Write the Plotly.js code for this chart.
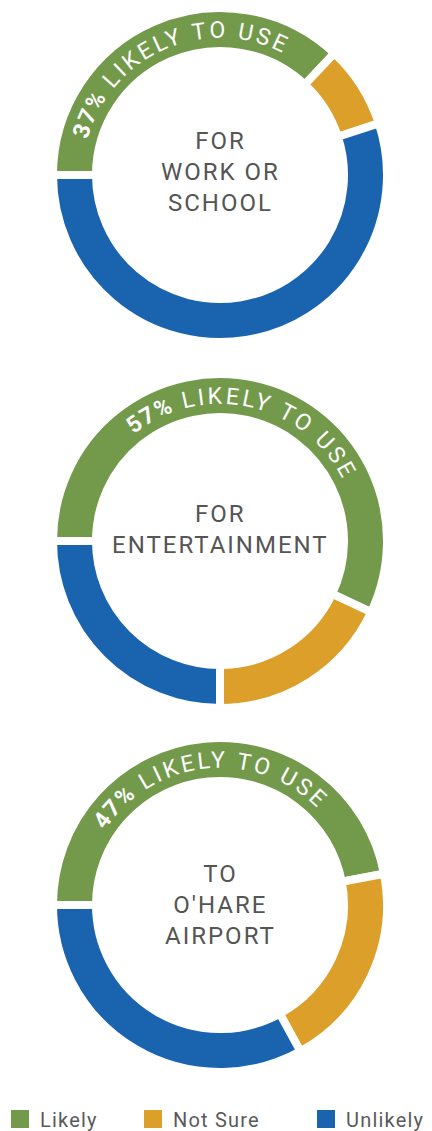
<!DOCTYPE html>
<html>
<head>
<meta charset="utf-8">
<script src="https://cdn.plot.ly/plotly-3.0.1.min.js"></script>
<style>
html,body{margin:0;padding:0;background:#fff;}
#chart{width:432px;height:1131px;}
#chart .annotation-text{letter-spacing:2px;}
#chart .legendtext{letter-spacing:1.2px;}
</style>
</head>
<body>
<div id="chart"></div>
<script>
// ---- data ----
const categories = ['Likely', 'Not Sure', 'Unlikely'];
const workOrSchool = [37, 8, 55];
const entertainment = [57, 18, 25];
const toOhare = [47, 20, 33];
const centerLabels = ['FOR<br>WORK OR<br>SCHOOL', 'FOR<br>ENTERTAINMENT', 'TO<br>O\'HARE<br>AIRPORT'];
const arcPercents = ['37%', '57%', '47%'];
const arcSuffix = ' LIKELY TO USE';
const colors = ['#739a4b', '#dc9f29', '#1a63ae'];

// ---- layout constants ----
const W = 432, H = 1131;
const centerXpx = 220;
const centersYpx = [175, 541, 905];
const pieRpx = 167;
const holeFrac = 0.7425;
const labelShift = [3, 12, 0];
const FONT = 'Roboto, "Open Sans", sans-serif';

const seriesList = [workOrSchool, entertainment, toOhare];

const traces = seriesList.map((vals, i) => ({
  type: 'pie',
  labels: categories,
  values: vals,
  sort: false,
  direction: 'clockwise',
  rotation: 270,
  hole: holeFrac,
  textinfo: 'none',
  hoverinfo: 'label+percent',
  showlegend: i === 0,
  marker: {colors: colors, line: {color: '#ffffff', width: 8}},
  domain: {
    x: [(centerXpx - pieRpx) / W, (centerXpx + pieRpx) / W],
    y: [(H - centersYpx[i] - pieRpx) / H, (H - centersYpx[i] + pieRpx) / H]
  }
}));

const annotations = centerLabels.map((t, i) => ({
  text: t,
  x: centerXpx / W,
  y: (H - centersYpx[i]) / H,
  xref: 'paper', yref: 'paper',
  xanchor: 'center', yanchor: 'middle',
  yshift: labelShift[i],
  showarrow: false,
  align: 'center',
  font: {family: FONT, size: 24, color: '#555555'}
}));

const layout = {
  width: W, height: H,
  margin: {l: 0, r: 0, t: 0, b: 0},
  paper_bgcolor: '#ffffff',
  showlegend: true,
  legend: {
    orientation: 'h',
    x: 0, xanchor: 'left',
    y: 0, yanchor: 'bottom',
    font: {family: FONT, size: 20, color: '#5a5a5a'},
    traceorder: 'normal'
  },
  annotations: annotations
};

const gd = document.getElementById('chart');
Plotly.newPlot(gd, traces, layout, {displayModeBar: false, staticPlot: true}).then(() => {
  const NS = 'http://www.w3.org/2000/svg';
  const svg = gd.querySelector('svg.main-svg');
  const g = document.createElementNS(NS, 'g');
  g.setAttribute('class', 'arc-labels');
  svg.appendChild(g);

  const fs = 23;
  gd.calcdata.forEach((cd, i) => {
    const cd0 = cd[0];
    const cx = cd0.cx, cy = cd0.cy, r = cd0.r;
    const likely = cd[0];
    const mid = (likely.startangle + likely.stopangle) / 2;
    const ringMid = r * (1 + holeFrac) / 2;
    const rb = ringMid - fs * 0.36;
    const pt = a => [cx + rb * Math.sin(a), cy - rb * Math.cos(a)];
    const p0 = pt(mid - Math.PI / 2), p1 = pt(mid + Math.PI / 2);
    const path = document.createElementNS(NS, 'path');
    const id = 'arcpath' + i;
    path.setAttribute('id', id);
    path.setAttribute('d', `M${p0[0]},${p0[1]} A${rb},${rb} 0 0 1 ${p1[0]},${p1[1]}`);
    path.setAttribute('fill', 'none');
    g.appendChild(path);
    const text = document.createElementNS(NS, 'text');
    text.setAttribute('fill', '#ffffff');
    text.setAttribute('font-family', FONT);
    text.setAttribute('font-size', String(fs));
    text.setAttribute('letter-spacing', '3');
    const tp = document.createElementNS(NS, 'textPath');
    tp.setAttribute('href', '#' + id);
    tp.setAttribute('startOffset', '50%');
    tp.setAttribute('text-anchor', 'middle');
    const b = document.createElementNS(NS, 'tspan');
    b.setAttribute('font-weight', 'bold');
    b.setAttribute('letter-spacing', '1.5');
    b.textContent = arcPercents[i];
    const s = document.createElementNS(NS, 'tspan');
    s.textContent = arcSuffix;
    tp.appendChild(b);
    tp.appendChild(s);
    text.appendChild(tp);
    g.appendChild(text);
  });

  // legend styling: larger squares at reference positions
  const sb = gd.querySelector('.legend .scrollbox');
  if (sb) sb.removeAttribute('clip-path');
  const bg = gd.querySelector('.legend .bg');
  if (bg) bg.setAttribute('style', 'fill:none;stroke:none');
  const targetX = [20, 153, 326];
  const targetY = 1119;
  const items = gd.querySelectorAll('.legend .traces');
  items.forEach((it, k) => {
    const sym = it.querySelector('.legendpie');
    if (!sym) return;
    sym.setAttribute('d', 'M9,9H-9V-9H9Z');
    sym.style.strokeWidth = '0px';
    const rc = sym.getBoundingClientRect();
    const dx = targetX[k] - (rc.left + rc.width / 2);
    const dy = targetY - (rc.top + rc.height / 2);
    const m = /translate\(([-\d.e]+)[ ,]+([-\d.e]+)\)/.exec(it.getAttribute('transform') || 'translate(0,0)');
    const x0 = m ? parseFloat(m[1]) : 0, y0 = m ? parseFloat(m[2]) : 0;
    it.setAttribute('transform', `translate(${x0 + dx},${y0 + dy})`);
  });
});
</script>
</body>
</html>
